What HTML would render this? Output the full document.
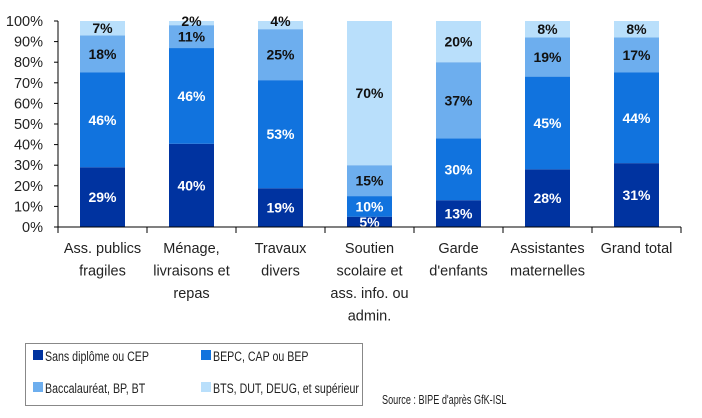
<!DOCTYPE html>
<html><head><meta charset="utf-8"><style>
body{margin:0;background:#fff;width:702px;height:413px;overflow:hidden}
svg{font-family:"Liberation Sans",Arial,sans-serif}
</style></head><body>
<svg id="chart" width="702" height="413" viewBox="0 0 702 413"></svg>
<script>
const categories=[["Ass. publics","fragiles"],["Ménage,","livraisons et","repas"],["Travaux","divers"],["Soutien","scolaire et","ass. info. ou","admin."],["Garde","d'enfants"],["Assistantes","maternelles"],["Grand total"]];
const seriesNames=["Sans diplôme ou CEP","BEPC, CAP ou BEP","Baccalauréat, BP, BT","BTS, DUT, DEUG, et supérieur"];
const sansDiplome=[29,40,19,5,13,28,31];
const bepc=[46,46,53,10,30,45,44];
const bac=[18,11,25,15,37,19,17];
const bts=[7,2,4,70,20,8,8];
const yTicks=[0,10,20,30,40,50,60,70,80,90,100];
const colors=["#0033a0","#1173de","#6daeee","#b9dffb"];
const labelColors=["#fff","#fff","#111","#111"];
const NS="http://www.w3.org/2000/svg";
const svg=document.getElementById("chart");
const x0=58,step=89,y0=227,yTop=21,bw=45;
const y=v=>y0-(v/100)*(y0-yTop);
const xc=i=>x0+step*i+step/2;
function mk(t,a){const e=document.createElementNS(NS,t);for(const k in a)e.setAttribute(k,a[k]);svg.appendChild(e);return e;}
const series=[sansDiplome,bepc,bac,bts];
categories.forEach((c,i)=>{
  const total=series.reduce((s,a)=>s+a[i],0);
  let cum=0;
  series.forEach((arr,s)=>{
    const v=arr[i]/total*100;
    const r=mk("rect",{x:xc(i)-bw/2,y:y(cum+v),width:bw,height:y(cum)-y(cum+v),fill:colors[s]});
    
    
    let ly=(y(cum)+y(cum+v))/2+5;
    if(v<4) ly=Math.min(ly,y(cum+v)+5);
    const t=mk("text",{x:xc(i),y:ly,"text-anchor":"middle","font-size":"14","font-weight":"bold",fill:labelColors[s]});
    t.textContent=arr[i]+"%";
    
    
    cum+=v;
  });
  c.forEach((ln,j)=>{
    const t=mk("text",{x:xc(i),y:253+j*22.5,"text-anchor":"middle","font-size":"14.5",fill:"#222"});
    t.textContent=ln;
    
    
  });
});
const ax=mk("line",{x1:x0,y1:yTop,x2:x0,y2:y0,stroke:"#000"});


const xa=mk("line",{x1:x0,y1:y0,x2:x0+step*7,y2:y0,stroke:"#000"});


for(let i=0;i<=7;i++){const l=mk("line",{x1:x0+step*i,y1:y0,x2:x0+step*i,y2:y0+6,stroke:"#000"});}
yTicks.forEach(v=>{
  const l=mk("line",{x1:x0-4,y1:y(v),x2:x0,y2:y(v),stroke:"#000"});
  
  
  const t=mk("text",{x:x0-15,y:y(v)+5,"text-anchor":"end","font-size":"14.5",fill:"#222"});
  t.textContent=v+"%";
  
  
});
const lb=mk("rect",{x:25.5,y:343.5,width:337,height:62,fill:"none",stroke:"#888"});


seriesNames.forEach((n,s)=>{
  const lx=33+(s%2)*168, ly=350+Math.floor(s/2)*32;
  const r=mk("rect",{x:lx,y:ly,width:10,height:10,fill:colors[s]});
  
  
  const t=mk("text",{x:0,y:0,"font-size":"14",fill:"#222",transform:`translate(${lx+12},${ly+11}) scale(0.76,1)`});
  t.textContent=n;
  
  
});
const src=mk("text",{x:0,y:0,"font-size":"12.5",fill:"#222",transform:"translate(382,404) scale(0.73,1)"});
src.textContent="Source : BIPE d'après GfK-ISL";


</script>
</body></html>
